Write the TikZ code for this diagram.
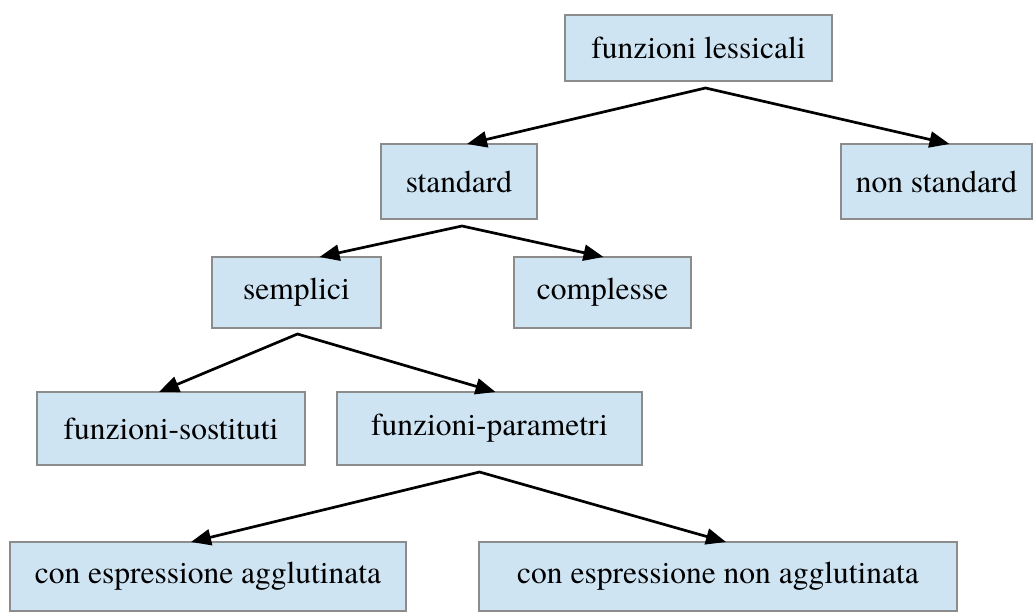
\documentclass[tikz,border=0pt]{standalone}
\usepackage{fontspec}
\newfontfamily\labelfont{texgyretermes-regular.otf}
\usetikzlibrary{arrows.meta,calc}
\definecolor{boxfill}{HTML}{CFE4F3}
\definecolor{boxline}{HTML}{8C8C8C}
\begin{document}
\begin{tikzpicture}[x=1pt,y=-1pt,
  cat/.style={draw=boxline,fill=boxfill,line width=1.3pt,rectangle,
    inner sep=0pt,outer sep=0pt,font=\labelfont\fontsize{31.5}{36}\selectfont},
  fork/.style={line width=2.7pt,line join=miter,
    {Triangle[length=20pt,width=16pt]}-{Triangle[length=20pt,width=16pt]}}]
\useasboundingbox (0,0) rectangle (1035,613);

% category boxes
\node[cat,minimum width=267pt,minimum height=66pt] (lex)  at (698.5,48)   {funzioni lessicali};
\node[cat,minimum width=156pt,minimum height=75pt] (std)  at (459,181.5)  {standard};
\node[cat,minimum width=191pt,minimum height=75pt] (nstd) at (936.5,181.5){non standard};
\node[cat,minimum width=169pt,minimum height=71pt] (semp) at (296.5,292.5){semplici};
\node[cat,minimum width=177pt,minimum height=71pt] (comp) at (602.5,292.5){complesse};
\node[cat,minimum width=268pt,minimum height=73pt] (sost) at (171,428.5)  {funzioni-sostituti};
\node[cat,minimum width=305pt,minimum height=73pt] (par)  at (489.5,428.5){funzioni-parametri};
\node[cat,minimum width=396pt,minimum height=69pt] (agg)  at (208,576.5)  {con espressione agglutinata};
\node[cat,minimum width=478pt,minimum height=69pt] (nagg) at (718,576.5)  {con espressione non agglutinata};

% branching points just below each parent
\coordinate (lexfork)  at ($(lex.south)+(7,7)$);
\coordinate (stdfork)  at ($(std.south)+(3,7)$);
\coordinate (sempfork) at ($(semp.south)+(1,6)$);
\coordinate (parfork)  at ($(par.south)+(-10,7)$);

% connectors
\draw[fork] ($(std.north)+(8,0)$)   -- (lexfork)  -- ($(nstd.north)+(13,0)$);
\draw[fork] ($(semp.north)+(23,0)$) -- (stdfork)  -- ($(comp.north)+(1,0)$);
\draw[fork] ($(sost.north)+(-12,0)$)-- (sempfork) -- ($(par.north)+(6,0)$);
\draw[fork] ($(agg.north)+(-17,0)$) -- (parfork)  -- ($(nagg.north)+(8,0)$);
\end{tikzpicture}
\end{document}
